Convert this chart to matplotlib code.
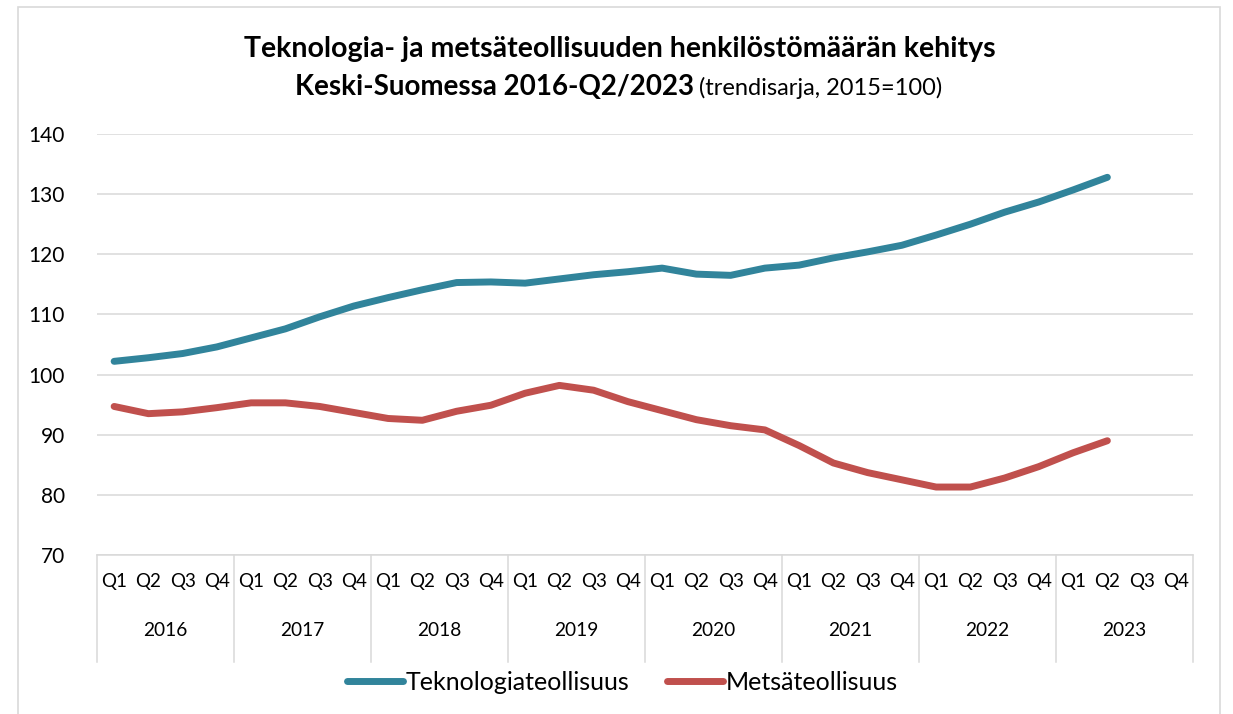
import matplotlib
matplotlib.use("Agg")
import matplotlib.pyplot as plt
import matplotlib.transforms as mtransforms
from matplotlib.patches import Rectangle

plt.rcParams['font.family'] = ['Lato', 'DejaVu Sans']

years = ['2016', '2017', '2018', '2019', '2020', '2021', '2022', '2023']
quarters = ['Q1', 'Q2', 'Q3', 'Q4']

tekno = [102.2, 102.8, 103.5, 104.6, 106.1, 107.6, 109.6, 111.4,
         112.8, 114.1, 115.3, 115.4, 115.2, 115.9, 116.6, 117.1,
         117.7, 116.7, 116.5, 117.7, 118.2, 119.4, 120.4, 121.5,
         123.2, 125.0, 127.0, 128.7, 130.7, 132.8]
metsa = [94.7, 93.5, 93.8, 94.5, 95.3, 95.3, 94.7, 93.7,
         92.7, 92.4, 93.9, 94.9, 96.9, 98.2, 97.4, 95.5,
         94.0, 92.5, 91.5, 90.8, 88.2, 85.3, 83.7, 82.5,
         81.3, 81.3, 82.8, 84.7, 87.0, 89.0]

series_names = ['Teknologiateollisuus', 'Metsäteollisuus']
colors = ['#31849B', '#C0504D']
yticks = [70, 80, 90, 100, 110, 120, 130, 140]

W, H = 1233, 714
fig = plt.figure(figsize=(W / 100, H / 100), dpi=100)

# chart border
fig.patches.append(Rectangle((18 / W, -0.01), (1220 - 18) / W, 1 - 7 / H + 0.01,
                             transform=fig.transFigure, fill=False,
                             edgecolor='#d9d9d9', linewidth=1.2))

left, right = 97 / W, 1193 / W
top, bottom = 1 - 134 / H, 1 - 555 / H
ax = fig.add_axes([left, bottom, right - left, top - bottom])

n = len(years) * len(quarters)
ax.plot(range(len(tekno)), tekno, color=colors[0], lw=5, solid_capstyle='round',
        solid_joinstyle='round', label=series_names[0])
ax.plot(range(len(metsa)), metsa, color=colors[1], lw=5,
        solid_capstyle='round', solid_joinstyle='round', label=series_names[1])

ax.set_xlim(-0.5, n - 0.5)
ax.set_ylim(70, 140)
ax.set_yticks(yticks)
ax.set_yticklabels([str(v) for v in yticks], fontsize=15)
ax.yaxis.grid(True, color='#d9d9d9', lw=1.1)
ax.set_axisbelow(True)
ax.tick_params(axis='y', length=0, pad=23)
for s in ['left', 'right', 'top']:
    ax.spines[s].set_visible(False)
ax.spines['bottom'].set_color('#d9d9d9')
ax.spines['bottom'].set_linewidth(1.1)

ax.set_xticks(range(n))
ax.set_xticklabels(quarters * len(years), fontsize=13.5)
ax.tick_params(axis='x', length=0, pad=13)

trans = mtransforms.blended_transform_factory(ax.transData, ax.transAxes)
sep_len = (662 - 555) / (555 - 134)
for i in range(len(years) + 1):
    xv = i * 4 - 0.5
    ax.plot([xv, xv], [0, -sep_len], transform=trans, color='#d9d9d9',
            lw=1.1, clip_on=False)
for i, yr in enumerate(years):
    ax.text(i * 4 + 1.5, -(630 - 555) / (555 - 134), yr, transform=trans,
            ha='center', va='center', fontsize=13.8)

# title
fig.text(620 / W, 1 - 57 / H, 'Teknologia- ja metsäteollisuuden henkilöstömäärän kehitys',
         ha='center', va='baseline', fontsize=20.5, fontweight='bold')
fig.text(694 / W, 1 - 95 / H, 'Keski-Suomessa 2016-Q2/2023',
         ha='right', va='baseline', fontsize=20, fontweight='bold')
fig.text(699 / W, 1 - 95 / H, '(trendisarja, 2015=100)',
         ha='left', va='baseline', fontsize=17)

leg = fig.legend(loc='center', bbox_to_anchor=(622 / W, 1 - 682 / H), ncol=2,
                 frameon=False, fontsize=18, handlelength=2.25, handletextpad=0.1,
                 columnspacing=1.5)

fig.savefig('out.png', dpi=100)
